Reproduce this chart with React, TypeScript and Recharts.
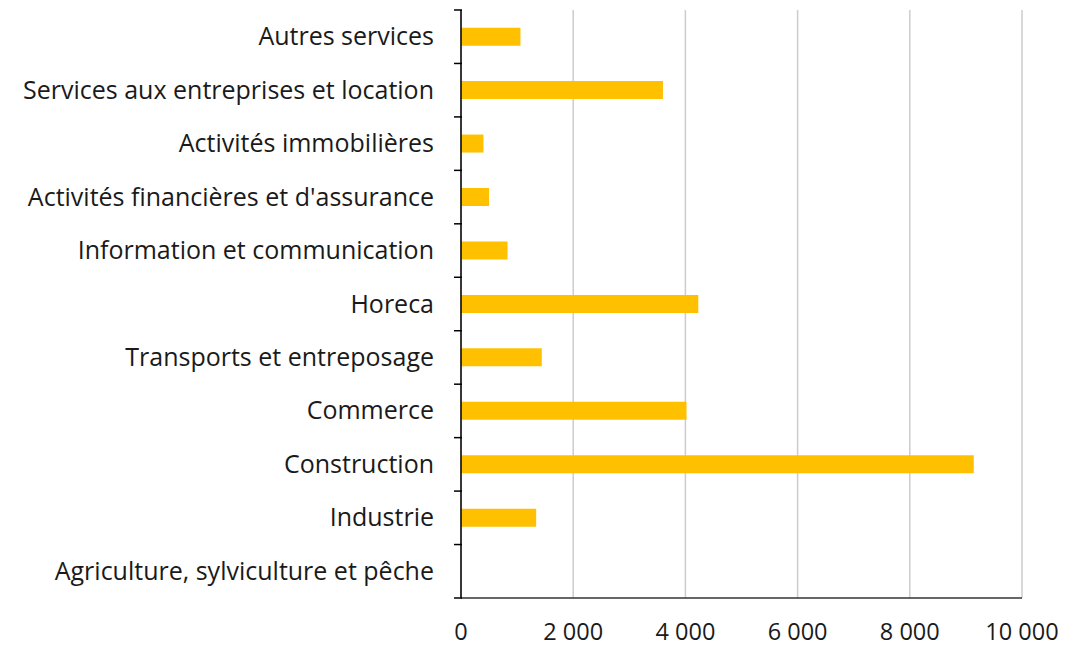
import { BarChart, Bar, XAxis, YAxis, CartesianGrid } from 'recharts';

const sectors = [
  'Autres services',
  'Services aux entreprises et location',
  'Activités immobilières',
  'Activités financières et d\'assurance',
  'Information et communication',
  'Horeca',
  'Transports et entreposage',
  'Commerce',
  'Construction',
  'Industrie',
  'Agriculture, sylviculture et pêche',
];

const values = [1060, 3600, 400, 500, 830, 4230, 1440, 4020, 9140, 1340, 0];

const xTicks = [0, 2000, 4000, 6000, 8000, 10000];

const data = sectors.map((name, i) => ({ name, value: values[i] }));

const FONT = '"Open Sans", sans-serif';

const fmt = (v: number) => v.toLocaleString('fr-FR').replace(/\u202f|\u00a0/g, ' ');

function SectorTick(props: any) {
  const { x, y, payload, index } = props;
  const half = payload?.offset ?? 0;
  return (
    <g>
      <line x1={x + 19} x2={x + 27} y1={y - half} y2={y - half} stroke="#000" strokeWidth={1.5} />
      {index === sectors.length - 1 && (
        <line x1={x + 19} x2={x + 27} y1={y + half} y2={y + half} stroke="#000" strokeWidth={1.5} />
      )}
      <text x={x - 1} y={y} dy="0.34em" textAnchor="end" fill="#1a1a1a" fontSize={25} fontFamily={FONT}>
        {payload.value}
      </text>
    </g>
  );
}

export default function App() {
  return (
    <div style={{ position: 'absolute', left: 0, top: 0, background: '#fff' }}>
      <BarChart
        width={1091}
        height={646}
        data={data}
        layout="vertical"
        margin={{ top: 10, right: 69, bottom: 0, left: 0 }}
        barCategoryGap="33%"
      >
        <CartesianGrid horizontal={false} stroke="#cccccc" strokeWidth={1.5} />
        <XAxis
          type="number"
          domain={[0, 10000]}
          ticks={xTicks}
          tickFormatter={fmt}
          axisLine={{ stroke: '#333', strokeWidth: 1.5 }}
          tickLine={false}
          tickMargin={19}
          height={48}
          tick={{ fill: '#1a1a1a', fontSize: 23.5, fontFamily: FONT }}
        />
        <YAxis
          type="category"
          dataKey="name"
          width={461}
          axisLine={{ stroke: '#000', strokeWidth: 1.5 }}
          tickLine={false}
          tickMargin={26}
          tickSize={0}
          tick={<SectorTick />}
        />
        <Bar dataKey="value" fill="#FFC000" isAnimationActive={false} />
      </BarChart>
    </div>
  );
}
